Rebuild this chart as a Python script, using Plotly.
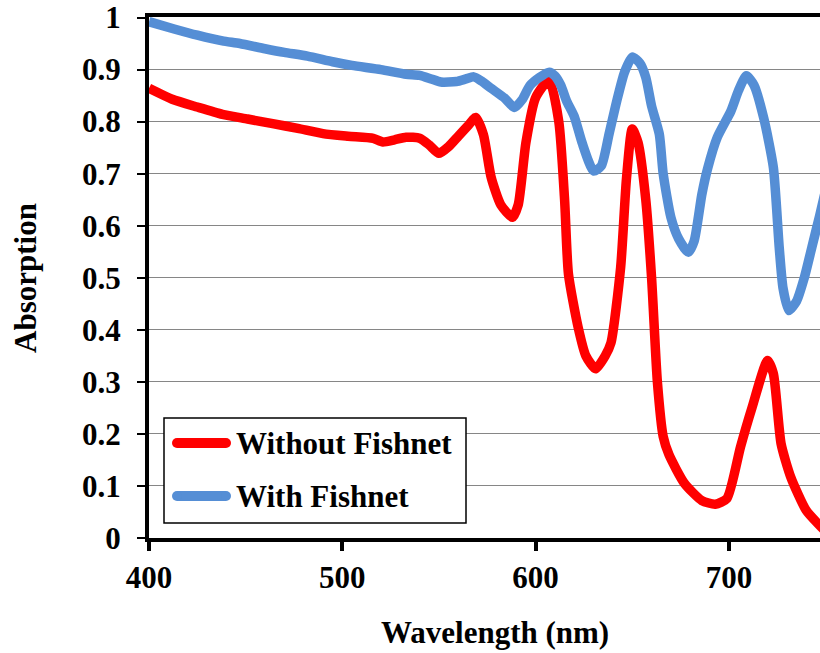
import plotly.graph_objects as go

# Absorption spectra (wavelength in nm, absorption fraction)
wl_without = [400, 412, 425, 438, 451, 464, 477, 490, 503, 516, 521, 527, 533, 540, 545,
              550, 555, 560, 565, 569, 573, 577, 582, 588, 591, 595, 600, 607, 612, 615,
              617, 622, 626, 631, 636, 639, 644, 647, 650, 653, 657, 660, 663, 666, 669,
              677, 686, 693, 699, 706, 712, 720, 723, 727, 732, 740, 747, 752]
abs_without = [0.864, 0.843, 0.828, 0.814, 0.805, 0.796, 0.787, 0.777, 0.772, 0.768, 0.761,
               0.765, 0.770, 0.768, 0.755, 0.739, 0.752, 0.772, 0.792, 0.808, 0.775, 0.693,
               0.640, 0.616, 0.640, 0.760, 0.846, 0.880, 0.800, 0.650, 0.507, 0.405, 0.350,
               0.325, 0.350, 0.375, 0.520, 0.690, 0.786, 0.760, 0.650, 0.500, 0.300, 0.195,
               0.160, 0.105, 0.072, 0.065, 0.076, 0.175, 0.251, 0.341, 0.316, 0.181, 0.117,
               0.053, 0.024, 0.005]

wl_with = [400, 413, 425, 438, 447, 460, 470, 482, 495, 505, 520, 533, 540, 546, 551, 559,
           564, 568, 572, 577, 584, 589, 593, 597, 602, 607, 610, 613, 616, 620, 624, 630,
           634, 638, 642, 646, 650, 654, 657, 660, 664, 666, 670, 674, 679, 682, 686, 689,
           694, 701, 705, 709, 713, 718, 723, 726, 728, 731, 735, 739, 743, 747, 752]
abs_with = [0.992, 0.978, 0.966, 0.955, 0.950, 0.940, 0.933, 0.926, 0.915, 0.908, 0.900,
            0.891, 0.889, 0.882, 0.876, 0.877, 0.882, 0.886, 0.878, 0.864, 0.845, 0.827,
            0.842, 0.869, 0.885, 0.895, 0.888, 0.870, 0.840, 0.810, 0.760, 0.705, 0.715,
            0.776, 0.840, 0.895, 0.924, 0.912, 0.885, 0.830, 0.776, 0.700, 0.616, 0.575,
            0.549, 0.570, 0.660, 0.710, 0.770, 0.820, 0.860, 0.888, 0.870, 0.807, 0.712,
            0.560, 0.480, 0.437, 0.455, 0.500, 0.560, 0.620, 0.700]

series_names = ["Without Fishnet", "With Fishnet"]
series_colors = ["#FF0000", "#558ED5"]

x_ticks = [400, 500, 600, 700]
y_ticks = [0, 0.1, 0.2, 0.3, 0.4, 0.5, 0.6, 0.7, 0.8, 0.9, 1]
y_tick_text = ["0", "0.1", "0.2", "0.3", "0.4", "0.5", "0.6", "0.7", "0.8", "0.9", "1"]

FONT = "Liberation Serif"
W, H = 820, 653
ML, MR, MT, MB = 149, 0, 17, 115
PW, PH = W - ML - MR, H - MT - MB


def px_to_paper(px, py):
    return (px - ML) / PW, (H - MB - py) / PH


fig = go.Figure()
fig.add_trace(go.Scatter(x=wl_without, y=abs_without, mode="lines", name=series_names[0],
                         line=dict(color=series_colors[0], width=9.5, shape="spline", smoothing=0.6),
                         showlegend=False))
fig.add_trace(go.Scatter(x=wl_with, y=abs_with, mode="lines", name=series_names[1],
                         line=dict(color=series_colors[1], width=9.5, shape="spline", smoothing=0.6),
                         showlegend=False))

# Legend box drawn by hand
shapes = []
annotations = []
bx0, by0 = px_to_paper(164, 523)
bx1, by1 = px_to_paper(466, 418)
shapes.append(dict(type="rect", xref="paper", yref="paper", x0=bx0, y0=by0, x1=bx1, y1=by1,
                   line=dict(color="black", width=1.5), fillcolor="white", layer="above"))
for name, color, py in zip(series_names, series_colors, [443, 496]):
    lx0, ly = px_to_paper(177, py)
    lx1, _ = px_to_paper(226, py)
    shapes.append(dict(type="line", xref="paper", yref="paper", x0=lx0, x1=lx1, y0=ly, y1=ly,
                       line=dict(color=color, width=10), layer="above"))
    for cx in (lx0, lx1):
        shapes.append(dict(type="circle", xref="paper", yref="paper", xsizemode="pixel",
                           ysizemode="pixel", xanchor=cx, yanchor=ly, x0=-5, x1=5, y0=-5, y1=5,
                           fillcolor=color, line=dict(width=0), layer="above"))
    tx, ty = px_to_paper(234, py)
    annotations.append(dict(xref="paper", yref="paper", x=tx, y=ty, text=name, showarrow=False,
                            xanchor="left", yanchor="middle",
                            font=dict(family=FONT, size=31, color="black", weight="bold")))

# Axis titles
ax_x, ax_y = px_to_paper(495, 632)
annotations.append(dict(xref="paper", yref="paper", x=ax_x, y=ax_y, text="Wavelength (nm)",
                        showarrow=False, xanchor="center", yanchor="middle",
                        font=dict(family=FONT, size=31, color="black", weight="bold")))
ay_x, ay_y = px_to_paper(25, 278)
annotations.append(dict(xref="paper", yref="paper", x=ay_x, y=ay_y, text="Absorption",
                        showarrow=False, xanchor="center", yanchor="middle", textangle=-90,
                        font=dict(family=FONT, size=31, color="black", weight="bold")))

fig.update_layout(
    width=W, height=H,
    margin=dict(l=ML, r=MR, t=MT, b=MB, pad=0),
    paper_bgcolor="white", plot_bgcolor="white",
    shapes=shapes, annotations=annotations,
    showlegend=False,
)
fig.update_xaxes(
    range=[400, 400 + PW / 1.933], tickvals=x_ticks, ticktext=[str(v) for v in x_ticks],
    showgrid=False, zeroline=False,
    showline=True, linecolor="black", linewidth=4, mirror=True,
    ticks="outside", ticklen=9, tickwidth=4, tickcolor="black",
    tickfont=dict(family=FONT, size=31, color="black", weight="bold"),
)
fig.update_yaxes(
    range=[0, 1.001], tickvals=y_ticks, ticktext=y_tick_text,
    showgrid=True, gridcolor="#868686", gridwidth=1, zeroline=False,
    showline=True, linecolor="black", linewidth=4, mirror=False,
    ticks="outside", ticklen=8, tickwidth=1.5, tickcolor="black",
    ticklabelstandoff=10,
    tickfont=dict(family=FONT, size=31, color="black", weight="bold"),
)

fig.write_html("out.html")
